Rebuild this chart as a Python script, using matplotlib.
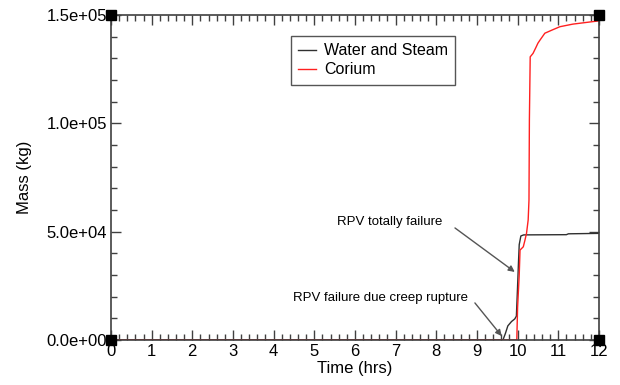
import matplotlib.pyplot as plt
from matplotlib.ticker import MultipleLocator, FuncFormatter

plt.rcParams["font.family"] = ["Liberation Sans", "DejaVu Sans"]

# Water and Steam mass (kg) vs time (hrs)
water_t = [0.0, 9.60, 9.64, 9.70, 9.76, 9.85, 9.93, 9.97, 10.00, 10.02,
           10.04, 10.08, 10.15, 11.20, 11.25, 12.0]
water_m = [0, 0, 0, 3000, 6500, 8500, 9700, 11000, 25000, 35000,
           44000, 48000, 48500, 48600, 49000, 49200]

# Corium mass (kg) vs time (hrs)
corium_t = [0.0, 9.97, 9.98, 10.00, 10.04, 10.06, 10.14, 10.18, 10.22, 10.26,
            10.28, 10.29, 10.31, 10.38, 10.45, 10.50, 10.55, 10.67, 10.84,
            11.04, 11.36, 11.70, 12.0]
corium_m = [0, 0, 0, 15000, 30000, 41500, 43000, 46000, 49300, 55400,
            64600, 101500, 130700, 132300, 135000, 137000, 138400, 141600,
            143000, 144600, 145800, 146600, 147300]

x_lim = (0, 12)
y_lim = (0, 150000)

fig = plt.figure(figsize=(6.2, 3.85), dpi=100)
ax = fig.add_axes([0.179, 0.117, 0.787, 0.844])

ax.plot(water_t, water_m, color="#303030", lw=1.0, label="Water and Steam")
ax.plot(corium_t, corium_m, color="#ff2020", lw=1.0, label="Corium")

ax.set_xlim(*x_lim)
ax.set_ylim(*y_lim)

# square markers at the plot corners
ax.plot([x_lim[0], x_lim[0], x_lim[1], x_lim[1]],
        [y_lim[0], y_lim[1], y_lim[0], y_lim[1]],
        "s", color="black", ms=7, clip_on=False, zorder=5)

ax.xaxis.set_major_locator(MultipleLocator(1))
ax.xaxis.set_minor_locator(MultipleLocator(0.2))
ax.yaxis.set_major_locator(MultipleLocator(50000))
ax.yaxis.set_minor_locator(MultipleLocator(10000))
ax.yaxis.set_major_formatter(FuncFormatter(lambda v, p: f"{v:.1e}"))

ax.tick_params(which="both", direction="in", top=True, right=True,
               color="#404040", labelsize=12, pad=3)
ax.tick_params(which="major", length=7, width=1)
ax.tick_params(which="minor", length=4, width=1)
for s in ax.spines.values():
    s.set_color("#404040")
    s.set_linewidth(1.2)

ax.set_xlabel("Time (hrs)", fontsize=12, labelpad=1)
ax.set_ylabel("Mass (kg)", fontsize=12, labelpad=10)

leg = ax.legend(loc="upper left", bbox_to_anchor=(0.369, 0.935),
                fontsize=11.5, handlelength=1.1, handletextpad=0.5,
                borderpad=0.45, labelspacing=0.25, borderaxespad=0,
                fancybox=False, framealpha=1)
leg.get_frame().set_edgecolor("#555555")
leg.get_frame().set_linewidth(1.0)

arrow = dict(arrowstyle="-|>", color="#555555", lw=1, mutation_scale=9,
             shrinkA=0, shrinkB=0)
ax.annotate("RPV totally failure", xy=(9.93, 31400), xytext=(6.86, 54500),
            fontsize=9.5, ha="center", va="center")
ax.annotate("", xy=(9.93, 31400), xytext=(8.46, 51700), arrowprops=arrow)
ax.annotate("RPV failure due creep rupture", xy=(9.61, 1800),
            xytext=(6.64, 19400), fontsize=9.5, ha="center", va="center")
ax.annotate("", xy=(9.61, 1800), xytext=(8.95, 17100), arrowprops=arrow)

fig.savefig("out.png", dpi=100)
